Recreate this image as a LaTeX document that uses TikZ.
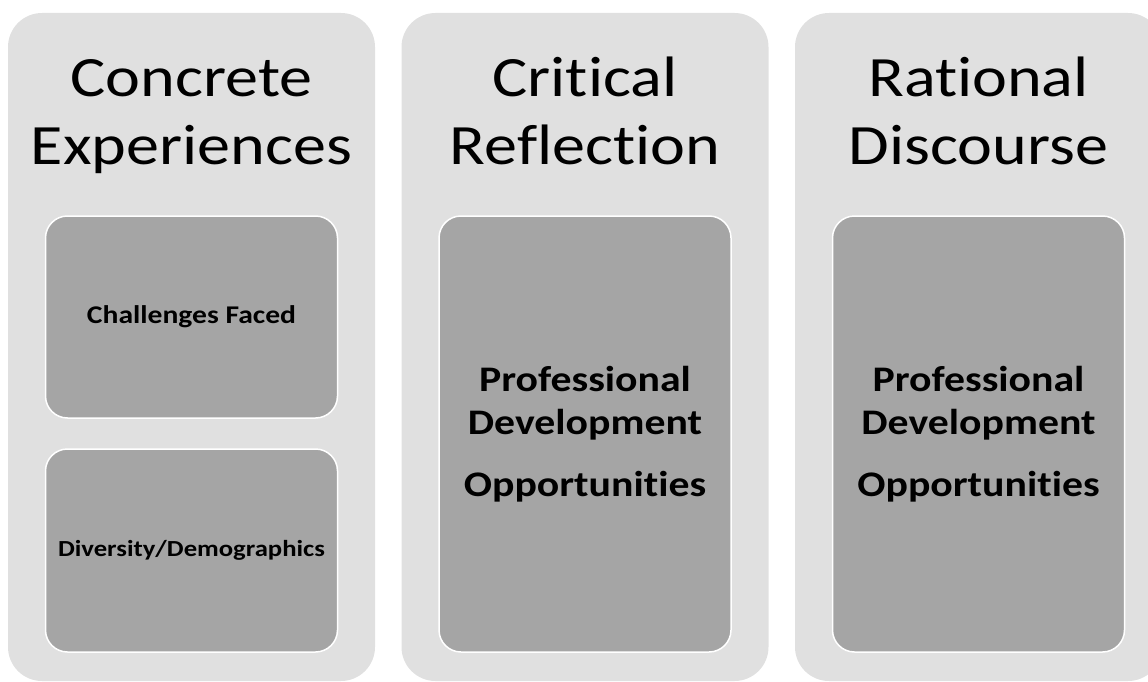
\documentclass[tikz,border=0pt]{standalone}
\usepackage{fontspec}
\setmainfont{Carlito}[FakeStretch=1.16, Ligatures=NoCommon]
\usepackage{tikz}
\definecolor{panelgray}{RGB}{224,224,224}
\definecolor{cardgray}{RGB}{165,165,165}
\tikzstyle{panel} = [draw=none, fill=panelgray, rounded corners=34pt, minimum width=367pt, minimum height=668pt, inner sep=0pt]
\tikzstyle{card} = [draw=white, line width=1.5pt, fill=cardgray, rounded corners=22pt, minimum width=292pt, inner sep=0pt, align=center]
\tikzstyle{heading} = [align=center, inner sep=0pt, font=\fontsize{57}{68}\selectfont]
\tikzstyle{bigtext} = [font=\bfseries\fontsize{36}{43}\selectfont]

\begin{document}
\begin{tikzpicture}[x=1pt, y=-1pt]
    \clip (0,0) rectangle (1148,682);
    % three columns
    \foreach \n/\x/\t in {concrete/191.5/{Concrete\\Experiences}, critical/585/{Critical\\Reflection}, rational/978.5/{Rational\\Discourse}}{
        \node[panel] (\n) at (\x,347) {};
        \node[heading] (\n-head) at (\x,117.4) {\strut\t\strut};
    }
    % cards
    \node[card, font=\bfseries\fontsize{25.5}{30}\selectfont, minimum height=202pt] (challenges) at (191.5,317) {Challenges Faced};
    \node[card, font=\bfseries\fontsize{23}{28}\selectfont, minimum height=203pt] (diversity) at (191.5,550.5) {Diversity/Demographics};
    \node[card, bigtext, minimum height=436pt] (critical-pd) at (585,434) {Professional\\Development\\[19pt]Opportunities};
    \node[card, bigtext, minimum height=436pt] (rational-pd) at (978.5,434) {Professional\\Development\\[19pt]Opportunities};
\end{tikzpicture}
\end{document}
